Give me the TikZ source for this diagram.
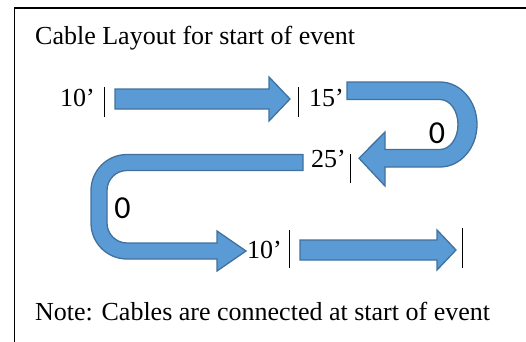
\documentclass[tikz,border=0pt]{standalone}
\usepackage{fontspec}
\setmainfont{Liberation Serif}
\newfontfamily\zerofont{Carlito}
\definecolor{cableblue}{HTML}{5B9BD5}
\definecolor{cableedge}{HTML}{41719C}

\begin{document}
\begin{tikzpicture}[x=1pt, y=1pt,
    cable/.style={fill=cableblue, draw=cableedge, line width=1.3pt, line join=miter},
    len/.style={anchor=base west, inner sep=0pt, font=\fontsize{26}{30}\selectfont},
    loopmark/.style={inner sep=0pt, font=\zerofont\fontsize{32}{36}\selectfont},
    joint/.style={line width=1pt}]
        \useasboundingbox (0,0) rectangle (526,341);
        % frame, only top and left show
        \draw[line width=1.5pt] (14.7,-5) -- (14.7,333) -- (535,333);

        \node[len] (title) at (35,297) {Cable Layout for start of event};
        \node[len] (note)  at (35,21)  {Note: Cables are connected at start of event};

        % first run
        \node[len] (L1) at (60,235) {10’};
        \draw[joint] (104,224) -- (104,254);
        \draw[cable] (115,232) -- (269,232) -- (269,220) -- (290,242)
                     -- (269,264) -- (269,252) -- (115,252) -- cycle;
        \draw[joint] (298,224) -- (298,254);
        \node[len] (L2) at (309,235) {15’};

        % right turn
        \draw[cable] (347,259) -- (440,259)
                     arc[start angle=90, end angle=-90, x radius=37, y radius=42.5]
                     -- (385,174) -- (385,155) -- (359,182.75) -- (385,209)
                     -- (385,191.5) -- (440,191.5)
                     arc[start angle=-90, end angle=90, x radius=18, y radius=25]
                     -- (347,241.5) -- cycle;
        \node[loopmark] (M1) at (437,208) {0};
        \node[len] (L3) at (311,174) {25’};
        \draw[joint] (350,158) -- (350,187);

        % left turn
        \draw[cable] (303,186.5) -- (127,186.5)
                     arc[start angle=90, end angle=180, radius=36]
                     -- (91,118)
                     arc[start angle=180, end angle=270, radius=36]
                     -- (217,82) -- (217,70) -- (246,90) -- (217,110)
                     -- (217,98) -- (127,98)
                     arc[start angle=270, end angle=180, radius=20]
                     -- (107,150.5)
                     arc[start angle=180, end angle=90, radius=20]
                     -- (303,170.5) -- cycle;
        \node[loopmark] (M2) at (122.5,133) {0};

        % last run
        \node[len] (L4) at (247,83) {10’};
        \draw[joint] (289,73) -- (289,111);
        \draw[cable] (300,81) -- (437,81) -- (437,71) -- (456,91)
                     -- (437,111) -- (437,101) -- (300,101) -- cycle;
        \draw[joint] (462,73) -- (462,113);
\end{tikzpicture}
\end{document}
